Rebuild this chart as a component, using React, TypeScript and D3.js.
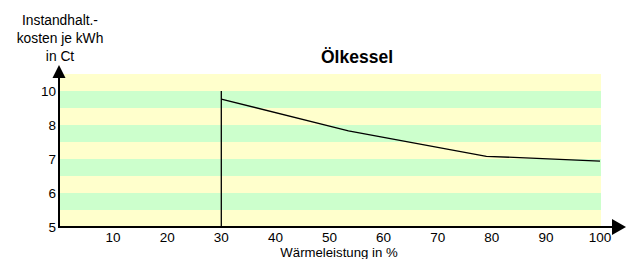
import React from "react";
import * as d3 from "d3";

const xTicks = [10, 20, 30, 40, 50, 60, 70, 80, 90, 100];
const yTicks = [5, 6, 7, 8, 9];
const yTickLabels = ["5", "6", "7", "8", "10"];
const loadPct = [30, 53.5, 79, 100];
const costCt = [8.76, 7.83, 7.08, 6.94];
const markerX = 30;
const title = "Ölkessel";
const yTitle = ["Instandhalt.-", "kosten je kWh", "in Ct"];
const xTitle = "Wärmeleistung in %";

const FONT = "'Liberation Sans', Arial, sans-serif";

export default function App() {
  const x = d3.scaleLinear().domain([0, 100]).range([59, 600]);
  const y = d3.scaleLinear().domain([5, 9.5]).range([227, 74]);
  const stripes = d3.range(5, 9.5, 0.5);
  const pts: [number, number][] = loadPct.map((v, i) => [v, costCt[i]]);
  const line = d3
    .line<[number, number]>()
    .x((d) => x(d[0]))
    .y((d) => y(d[1]));

  const x0 = x(0);
  const yBase = y(5);

  return (
    <svg
      width={630}
      height={259}
      style={{ position: "absolute", left: 0, top: 0, background: "#fff" }}
      fontFamily={FONT}
    >
      {stripes.map((s, i) => (
        <rect
          key={i}
          x={x0}
          y={y(s + 0.5)}
          width={x(100) - x0 + 1}
          height={y(s) - y(s + 0.5)}
          fill={i % 2 === 0 ? "#FFFFCC" : "#CCFFCC"}
        />
      ))}
      <line
        x1={x(markerX)}
        x2={x(markerX)}
        y1={y(9)}
        y2={yBase}
        stroke="#000"
        strokeWidth={1.3}
      />
      <path d={line(pts) || ""} fill="none" stroke="#000" strokeWidth={1.3} />

      {/* axes */}
      <line x1={x0} x2={613} y1={yBase} y2={yBase} stroke="#000" strokeWidth={2} />
      <path d={`M626,${yBase} L612,${yBase - 8} L612,${yBase + 8} Z`} fill="#000" />
      <line x1={x0} x2={x0} y1={yBase + 1} y2={77} stroke="#000" strokeWidth={2} />
      <path d={`M${x0},65 L${x0 - 6.5},78 L${x0 + 6.5},78 Z`} fill="#000" />

      {xTicks.map((t) => (
        <text key={t} x={x(t)} y={241.5} fontSize={13.5} textAnchor="middle" fill="#000">
          {t}
        </text>
      ))}
      {yTicks.map((t, i) => (
        <text key={t} x={56} y={y(t) + 5} fontSize={13.5} textAnchor="end" fill="#000">
          {yTickLabels[i]}
        </text>
      ))}

      <text x={357} y={63} fontSize={17.5} fontWeight="bold" textAnchor="middle" fill="#000">
        {title}
      </text>
      {yTitle.map((s, i) => (
        <text key={i} x={60} y={24.5 + i * 18.3} fontSize={13.8} textAnchor="middle" fill="#000">
          {s}
        </text>
      ))}
      <text x={339} y={256.5} fontSize={13.2} textAnchor="middle" fill="#000">
        {xTitle}
      </text>
    </svg>
  );
}
